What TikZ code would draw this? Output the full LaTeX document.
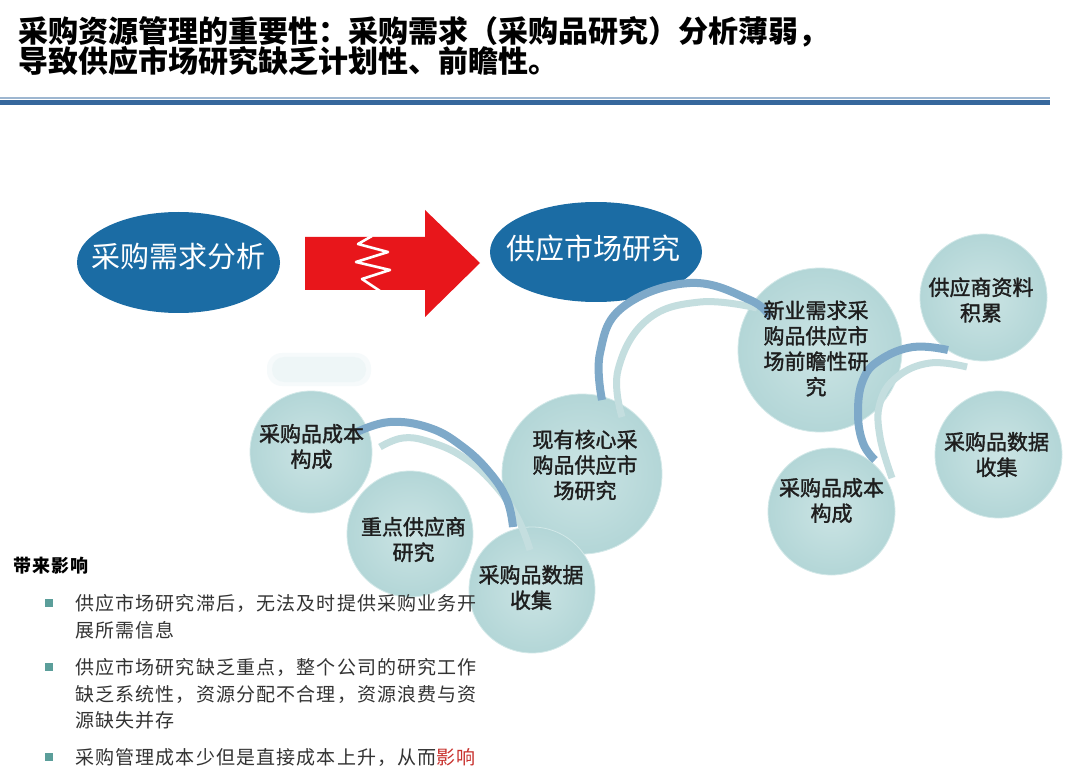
\documentclass[tikz,border=0pt]{standalone}
\usepackage{fontspec}
\setmainfont{Noto Sans CJK SC}
\newfontfamily\circfont{Noto Sans CJK SC}[FakeBold=1.6]
\newfontfamily\bodyfont{Noto Sans CJK SC}[LetterSpace=6]
\usetikzlibrary{shapes.geometric,calc}
\definecolor{ellblue}{HTML}{1B6CA4}
\definecolor{arrred}{HTML}{E8161B}
\definecolor{ruledark}{HTML}{36679C}
\definecolor{rulelight}{HTML}{9DB6D0}
\definecolor{circin}{HTML}{CBE4E4}
\definecolor{circout}{HTML}{B3D6D7}
\definecolor{circrim}{HTML}{D2E8E8}
\definecolor{ctextc}{HTML}{1E1E1E}
\definecolor{arcdark}{HTML}{7EA9C9}
\definecolor{arclight}{HTML}{C4DEDF}
\definecolor{bodytext}{HTML}{333333}
\definecolor{bulletc}{HTML}{5B9E9A}
\definecolor{hlred}{HTML}{C8302C}
\definecolor{blobc}{HTML}{EEF6F7}
\definecolor{blobout}{HTML}{F6FAFB}
\begin{document}
\begin{tikzpicture}[x=1pt,y=-1pt,
  circ/.style={circle, minimum size=#1, inner sep=0pt, inner color=circin, outer color=circout, draw=circrim, line width=0.8pt},
  ctext/.style={font=\circfont\fontsize{21}{25.5}\selectfont, text=ctextc, align=center, inner sep=0pt},
  ell/.style={ellipse, fill=ellblue, inner sep=0pt},
  etext/.style={font=\fontsize{29}{29}\selectfont, text=white, inner sep=0pt},
  titleline/.style={anchor=base west, inner sep=0pt, font=\bfseries\fontsize{30}{30}\selectfont, text=black},
  bodyline/.style={anchor=base west, inner sep=0pt, font=\bodyfont\fontsize{19}{19}\selectfont, text=bodytext},
  bulletsq/.style={fill=bulletc, minimum size=8pt, inner sep=0pt},
  darkarc/.style={draw=arcdark, line width=8pt},
  lightarc/.style={draw=arclight, line width=7pt}]
\useasboundingbox (0,0) rectangle (1080,770);
\fill[white] (0,0) rectangle (1080,770);

% title
\node[titleline] (title1) at (18,43) {采购资源管理的重要性：采购需求（采购品研究）分析薄弱，};
\node[titleline] (title2) at (18,73) {导致供应市场研究缺乏计划性、前瞻性。};
\fill[rulelight] (0,96.8) rectangle (1050,99);
\fill[ruledark] (0,100) rectangle (1050,105.5);

% ellipses and arrow
\node[ell, minimum width=203pt, minimum height=101pt] (e1) at (178.5,262.5) {};
\node[etext] (e1t) at (178,257) {采购需求分析};
\node[ell, minimum width=212pt, minimum height=100pt] (e2) at (596,252) {};
\node[etext] (e2t) at (593,248) {供应市场研究};
\fill[arrred] (305,237) -- (425,237) -- (425,210) -- (480,263) -- (425,317) -- (425,290) -- (305,290) -- cycle;
\draw[white, line width=2.6pt, line join=round] (372,236) -- (358,244) -- (388,252) -- (356,262) -- (390,270) -- (362,279) -- (380,291);

% faint blob
\fill[blobout, rounded corners=15pt] (267,353) rectangle (371,386);
\fill[blobc, rounded corners=12pt] (272,357) rectangle (366,382);

% circles
\node[circ=122pt] (c1) at (311,452) {};
\node[circ=126pt] (c2) at (410,534) {};
\node[circ=160pt] (c4) at (582,474) {};
\node[circ=126pt] (c3) at (532,590) {};
\node[circ=164pt] (c5) at (820,350) {};
\node[circ=127pt] (c6) at (983.5,297.5) {};
\node[circ=127pt] (c7) at (998.5,454.5) {};
\node[circ=127pt] (c8) at (831.5,511.5) {};

% arcs
\draw[lightarc] plot[smooth, tension=0.7] coordinates {(380,447) (403,438) (430,442) (463,457) (493,483) (517,517) (530,550)};
\draw[darkarc] plot[smooth, tension=0.7] coordinates {(357,432) (390,422) (430,428) (463,447) (490,473) (507,500) (513,527)};
\draw[lightarc] plot[smooth, tension=0.7] coordinates {(622,417) (618,370) (647,320) (700,302) (757,308)};
\draw[darkarc] plot[smooth, tension=0.7] coordinates {(602,400) (600,353) (623,307) (690,283) (750,300) (770,317)};
\draw[lightarc] plot[smooth, tension=0.7] coordinates {(967,367) (930,363) (897,377) (880,403) (880,437) (892,478)};
\draw[darkarc] plot[smooth, tension=0.7] coordinates {(948,350) (913,347) (880,360) (863,380) (858,413) (863,443) (875,460)};

% circle texts
\node[ctext] (t1) at (311.5,446.5) {采购品成本\\构成};
\node[ctext] (t2) at (413.5,539.5) {重点供应商\\研究};
\node[ctext] (t3) at (531,587.5) {采购品数据\\收集};
\node[ctext] (t4) at (585,465) {现有核心采\\购品供应市\\场研究};
\node[ctext] (t5) at (816,348.5) {新业需求采\\购品供应市\\场前瞻性研\\究};
\node[ctext] (t6) at (981,300) {供应商资料\\积累};
\node[ctext] (t7) at (996.5,454.5) {采购品数据\\收集};
\node[ctext] (t8) at (831.5,500.5) {采购品成本\\构成};

% bottom text
\node[anchor=base west, inner sep=0pt, font=\bodyfont\bfseries\fontsize{18}{18}\selectfont, text=black] (head) at (13,572) {带来影响};
\node[bulletsq] (s1) at (49,603) {};
\node[bodyline] (l1a) at (75,610) {供应市场研究滞后，无法及时提供采购业务开};
\node[bodyline] (l1b) at (75,637) {展所需信息};
\node[bulletsq] (s2) at (49,667) {};
\node[bodyline] (l2a) at (75,674) {供应市场研究缺乏重点，整个公司的研究工作};
\node[bodyline] (l2b) at (75,701) {缺乏系统性，资源分配不合理，资源浪费与资};
\node[bodyline] (l2c) at (75,727) {源缺失并存};
\node[bulletsq] (s3) at (49,757) {};
\node[bodyline] (l3a) at (75,764) {采购管理成本少但是直接成本上升，从而\textcolor{hlred}{影响}};
\end{tikzpicture}
\end{document}
